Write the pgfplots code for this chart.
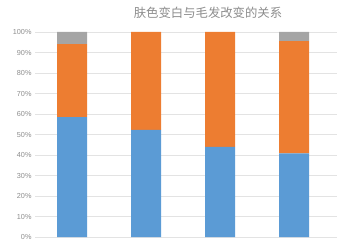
\documentclass[border=0pt]{standalone}
\usepackage{fontspec}
\setmainfont{Liberation Sans}
\newfontfamily\cjk{Noto Sans CJK SC}
\usepackage{pgfplots}
\pgfplotsset{compat=1.18}
\definecolor{sblue}{HTML}{5B9BD5}
\definecolor{sorange}{HTML}{ED7D31}
\definecolor{sgray}{HTML}{A5A5A5}
\definecolor{txtgray}{HTML}{8C8C8C}
\definecolor{gridgray}{HTML}{E3E3E3}

\begin{document}
\begin{tikzpicture}
\path[use as bounding box] (0,0) rectangle (337bp,243bp);
\node[text=txtgray, font=\cjk\fontsize{12.4}{14}\selectfont] at (208bp,230.5bp) {肤色变白与毛发改变的关系};
\begin{axis}[
  at={(35bp,6bp)}, anchor=south west,
  scale only axis, width=302bp, height=205bp,
  ybar stacked, bar width=30bp,
  xmin=-0.5, xmax=3.58, ymin=0, ymax=100,
  xtick=\empty,
  ytick={0,10,...,100},
  yticklabel={\pgfmathprintnumber{\tick}\%},
  /pgf/number format/assume math mode=true,
  tick label style={font=\fontsize{7.3}{8}\selectfont, text=txtgray},
  major tick length=0,
  ymajorgrids, grid style={draw=gridgray, line width=0.6pt},
  axis x line*=bottom, axis y line*=left,
  y axis line style={draw=none},
  x axis line style={draw=gridgray, line width=0.8pt, -},
  clip=false,
]
\addplot[fill=sblue, draw=none] coordinates {(0,58.5) (1,52.2) (2,44.0) (3,40.8)};
\addplot[fill=sorange, draw=none] coordinates {(0,35.6) (1,47.8) (2,56.0) (3,54.8)};
\addplot[fill=sgray, draw=none] coordinates {(0,5.9) (1,0) (2,0) (3,4.4)};
\end{axis}
\end{tikzpicture}
\end{document}
